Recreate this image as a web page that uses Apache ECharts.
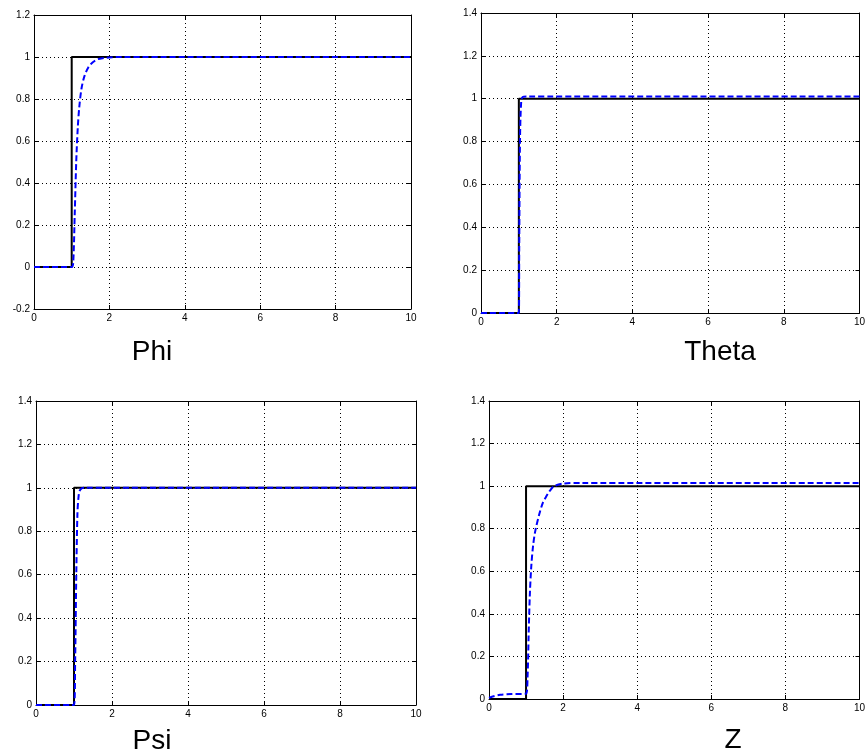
<!DOCTYPE html>
<html>
<head>
<meta charset="utf-8">
<script src="https://cdn.jsdelivr.net/npm/echarts@6/dist/echarts.min.js"></script>
<style>
html,body{margin:0;padding:0;background:#fff;}
#chart{width:868px;height:755px;}
</style>
</head>
<body>
<div id="chart"></div>
<script>
// Reference step command (shared by all four channels)
const refTime = [0, 1, 1, 10];
const refValue = [0, 0, 1, 1];

// Phi response
const phiTime  = [0, 1.0, 1.04, 1.08, 1.12, 1.16, 1.2, 1.26, 1.34, 1.44, 1.56, 1.7, 1.85, 2.0, 2.3, 10];
const phiValue = [0, 0, 0.02, 0.25, 0.5, 0.66, 0.76, 0.85, 0.91, 0.95, 0.975, 0.99, 0.995, 0.998, 1.0, 1.0];

// Theta response
const thetaTime  = [0, 1.0, 1.01, 1.03, 1.06, 1.1, 1.2, 10];
const thetaValue = [0, 0, 0.3, 0.8, 0.98, 1.008, 1.01, 1.01];

// Psi response
const psiTime  = [0, 1.0, 1.03, 1.06, 1.09, 1.12, 1.16, 1.25, 10];
const psiValue = [0, 0, 0.2, 0.6, 0.88, 0.96, 0.99, 1.0, 1.0];

// Z response
const zTime  = [0, 0.1, 0.3, 0.6, 1.0, 1.04, 1.07, 1.1, 1.14, 1.19, 1.25, 1.36, 1.45, 1.54, 1.65, 1.76, 2.0, 2.5, 10];
const zValue = [0.005, 0.012, 0.02, 0.023, 0.025, 0.1, 0.3, 0.48, 0.62, 0.72, 0.79, 0.87, 0.92, 0.95, 0.98, 1.0, 1.012, 1.015, 1.015];

// Axis ticks
const xTicks = { min: 0, max: 10, interval: 2 };
const phiY   = { min: -0.2, max: 1.2, interval: 0.2 };
const otherY = { min: 0, max: 1.4, interval: 0.2 };

const panelTitles = ['Phi', 'Theta', 'Psi', 'Z'];

const zip = (a, b) => a.map((v, i) => [v, b[i]]);

const grids = [
  { left: 34, top: 15, width: 377, height: 294 },
  { left: 481, top: 13, width: 381, height: 300 },
  { left: 36, top: 401, width: 380, height: 304 },
  { left: 489, top: 401, width: 375, height: 298 }
];

const responses = [
  zip(phiTime, phiValue),
  zip(thetaTime, thetaValue),
  zip(psiTime, psiValue),
  zip(zTime, zValue)
];
const yRanges = [phiY, otherY, otherY, otherY];

const gridLine = { show: true, lineStyle: { color: '#000', type: [1, 3], width: 1 } };
const axisLine = { show: true, onZero: false, lineStyle: { color: '#000', width: 1 } };
const tick = { show: true, inside: true, length: 4, lineStyle: { color: '#000' } };
const tickLabel = { color: '#000', fontSize: 10, fontFamily: 'Liberation Sans, Arial, sans-serif', margin: 4 };

const xAxis = [], yAxis = [], series = [];
grids.forEach((g, i) => {
  // bottom and top x axes (box frame)
  xAxis.push({ type: 'value', gridIndex: i, position: 'bottom', ...xTicks,
    axisLine, axisTick: tick, axisLabel: tickLabel, splitLine: gridLine });
  xAxis.push({ type: 'value', gridIndex: i, position: 'top', ...xTicks,
    axisLine, axisTick: tick, axisLabel: { show: false }, splitLine: { show: false } });
  // left and right y axes
  yAxis.push({ type: 'value', gridIndex: i, position: 'left', ...yRanges[i],
    axisLine, axisTick: tick, axisLabel: tickLabel, splitLine: gridLine });
  yAxis.push({ type: 'value', gridIndex: i, position: 'right', ...yRanges[i],
    axisLine, axisTick: tick, axisLabel: { show: false }, splitLine: { show: false } });

  series.push({
    type: 'line', xAxisIndex: 2 * i, yAxisIndex: 2 * i,
    data: zip(refTime, refValue), showSymbol: false, symbol: 'none',
    lineStyle: { color: '#000', width: 2 }, z: 2, animation: false
  });
  series.push({
    type: 'line', xAxisIndex: 2 * i, yAxisIndex: 2 * i,
    data: responses[i], showSymbol: false, symbol: 'none', smooth: 0.3,
    lineStyle: { color: '#0000ff', width: 2, type: [6, 3] }, z: 3, animation: false
  });
});

const titlePos = [[152, 352], [720, 352], [152, 741], [733, 740]];
const graphic = panelTitles.map((t, i) => ({
  type: 'text', x: titlePos[i][0], y: titlePos[i][1],
  style: { text: t, fill: '#000', fontSize: 28, fontFamily: 'Liberation Sans, Arial, sans-serif',
    textAlign: 'center', textVerticalAlign: 'middle' }
}));

const chart = echarts.init(document.getElementById('chart'), null, { renderer: 'canvas' });
chart.setOption({
  animation: false,
  backgroundColor: '#fff',
  grid: grids,
  xAxis, yAxis, series, graphic
});
</script>
</body>
</html>
